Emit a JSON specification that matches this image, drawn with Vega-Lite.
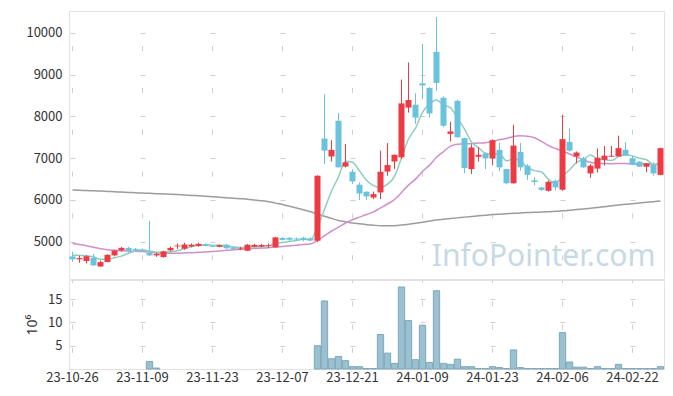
{
"$schema": "https://vega.github.io/schema/vega-lite/v6.json",
"padding": {"left": 25, "top": 10, "right": 5, "bottom": 5},
"background": "white",
"spacing": -5,
"config": {"font": "Noto Sans CJK KR", "view": {"stroke": "#e2e2e2"}, "axis": {"labelFontSize": 13, "labelColor": "#333333", "ticks": false, "domain": false, "gridColor": "#cfcfcf", "titleFontWeight": "normal"}},
"data": {"values": [
{"d":"23-10-26","o":4650,"h":4760,"l":4520,"c":4580,"v":0,"m5":4680,"m20":4960,"m120":6240},
{"d":"23-10-27","o":4580,"h":4670,"l":4500,"c":4610,"v":0,"m5":4675,"m20":4935,"m120":6233},
{"d":"23-10-30","o":4540,"h":4680,"l":4480,"c":4655,"v":0,"m5":4668,"m20":4905,"m120":6226},
{"d":"23-10-31","o":4615,"h":4710,"l":4430,"c":4435,"v":0,"m5":4640,"m20":4870,"m120":6219},
{"d":"23-11-01","o":4410,"h":4550,"l":4400,"c":4515,"v":0,"m5":4580,"m20":4835,"m120":6212},
{"d":"23-11-02","o":4515,"h":4700,"l":4510,"c":4690,"v":0,"m5":4581,"m20":4810,"m120":6205},
{"d":"23-11-03","o":4675,"h":4810,"l":4650,"c":4790,"v":0,"m5":4617,"m20":4795,"m120":6197},
{"d":"23-11-06","o":4795,"h":4880,"l":4760,"c":4855,"v":0,"m5":4657,"m20":4785,"m120":6189},
{"d":"23-11-07","o":4855,"h":4880,"l":4740,"c":4780,"v":0,"m5":4726,"m20":4778,"m120":6181},
{"d":"23-11-08","o":4830,"h":4850,"l":4770,"c":4795,"v":0,"m5":4782,"m20":4772,"m120":6173},
{"d":"23-11-09","o":4810,"h":4840,"l":4760,"c":4790,"v":0,"m5":4802,"m20":4768,"m120":6165},
{"d":"23-11-10","o":4735,"h":5500,"l":4660,"c":4675,"v":1.6,"m5":4779,"m20":4755,"m120":6158},
{"d":"23-11-13","o":4675,"h":4740,"l":4640,"c":4712,"v":0.2,"m5":4750,"m20":4740,"m120":6151},
{"d":"23-11-14","o":4635,"h":4790,"l":4620,"c":4770,"v":0,"m5":4748,"m20":4732,"m120":6144},
{"d":"23-11-15","o":4795,"h":4890,"l":4770,"c":4855,"v":0,"m5":4760,"m20":4728,"m120":6137},
{"d":"23-11-16","o":4890,"h":4960,"l":4830,"c":4910,"v":0,"m5":4784,"m20":4728,"m120":6130},
{"d":"23-11-17","o":4835,"h":4980,"l":4810,"c":4935,"v":0,"m5":4836,"m20":4733,"m120":6120},
{"d":"23-11-20","o":4890,"h":4960,"l":4870,"c":4930,"v":0,"m5":4880,"m20":4740,"m120":6110},
{"d":"23-11-21","o":4900,"h":4980,"l":4880,"c":4950,"v":0,"m5":4916,"m20":4748,"m120":6100},
{"d":"23-11-22","o":4945,"h":4960,"l":4890,"c":4900,"v":0,"m5":4925,"m20":4757,"m120":6090},
{"d":"23-11-23","o":4900,"h":4920,"l":4870,"c":4880,"v":0,"m5":4919,"m20":4768,"m120":6080},
{"d":"23-11-24","o":4880,"h":4935,"l":4870,"c":4920,"v":0,"m5":4916,"m20":4782,"m120":6068},
{"d":"23-11-27","o":4930,"h":4950,"l":4830,"c":4845,"v":0,"m5":4899,"m20":4796,"m120":6056},
{"d":"23-11-28","o":4865,"h":4880,"l":4800,"c":4830,"v":0,"m5":4875,"m20":4808,"m120":6044},
{"d":"23-11-29","o":4820,"h":4880,"l":4800,"c":4840,"v":0,"m5":4863,"m20":4821,"m120":6032},
{"d":"23-11-30","o":4785,"h":4950,"l":4780,"c":4930,"v":0,"m5":4873,"m20":4833,"m120":6020},
{"d":"23-12-01","o":4880,"h":4950,"l":4870,"c":4925,"v":0,"m5":4874,"m20":4842,"m120":6000},
{"d":"23-12-04","o":4885,"h":4950,"l":4870,"c":4925,"v":0,"m5":4890,"m20":4851,"m120":5980},
{"d":"23-12-05","o":4895,"h":4960,"l":4860,"c":4915,"v":0,"m5":4907,"m20":4860,"m120":5960},
{"d":"23-12-06","o":4870,"h":5120,"l":4860,"c":5105,"v":0,"m5":4960,"m20":4877,"m120":5925},
{"d":"23-12-07","o":5090,"h":5110,"l":5030,"c":5045,"v":0,"m5":4983,"m20":4890,"m120":5890},
{"d":"23-12-08","o":5095,"h":5110,"l":5020,"c":5050,"v":0,"m5":5008,"m20":4905,"m120":5850},
{"d":"23-12-11","o":5080,"h":5100,"l":5030,"c":5055,"v":0,"m5":5034,"m20":4920,"m120":5810},
{"d":"23-12-12","o":5095,"h":5120,"l":5010,"c":5050,"v":0,"m5":5061,"m20":4935,"m120":5765},
{"d":"23-12-13","o":5085,"h":5110,"l":5010,"c":5030,"v":0,"m5":5046,"m20":4949,"m120":5720},
{"d":"23-12-14","o":5025,"h":6590,"l":4990,"c":6580,"v":5.0,"m5":5353,"m20":5032,"m120":5663},
{"d":"23-12-15","o":7470,"h":8530,"l":6860,"c":7180,"v":14.6,"m5":5779,"m20":5144,"m120":5610},
{"d":"23-12-18","o":7040,"h":7430,"l":6920,"c":7200,"v":2.2,"m5":6208,"m20":5258,"m120":5560},
{"d":"23-12-19","o":7895,"h":8080,"l":6780,"c":6780,"v":2.7,"m5":6554,"m20":5349,"m120":5510},
{"d":"23-12-20","o":6800,"h":7340,"l":6780,"c":6900,"v":1.8,"m5":6928,"m20":5449,"m120":5480},
{"d":"23-12-21","o":6675,"h":6740,"l":6380,"c":6445,"v":0.5,"m5":6901,"m20":5528,"m120":5450},
{"d":"23-12-22","o":6365,"h":6420,"l":6000,"c":6155,"v":0.5,"m5":6696,"m20":5589,"m120":5430},
{"d":"23-12-26","o":6195,"h":6210,"l":6000,"c":6085,"v":0.1,"m5":6473,"m20":5651,"m120":5410},
{"d":"23-12-27","o":6060,"h":6200,"l":6020,"c":6140,"v":0.1,"m5":6345,"m20":5717,"m120":5397},
{"d":"23-12-28","o":6180,"h":7180,"l":6020,"c":6675,"v":7.4,"m5":6300,"m20":5809,"m120":5385},
{"d":"24-01-02","o":6680,"h":7360,"l":6580,"c":6835,"v":3.4,"m5":6378,"m20":5904,"m120":5383},
{"d":"24-01-03","o":6920,"h":7090,"l":6740,"c":7080,"v":1.2,"m5":6563,"m20":6012,"m120":5385},
{"d":"24-01-04","o":7020,"h":8880,"l":6980,"c":8310,"v":17.6,"m5":7008,"m20":6181,"m120":5400},
{"d":"24-01-05","o":8210,"h":9290,"l":8090,"c":8390,"v":10.4,"m5":7458,"m20":6355,"m120":5420},
{"d":"24-01-08","o":8280,"h":8550,"l":7820,"c":7970,"v":2.0,"m5":7717,"m20":6498,"m120":5445},
{"d":"24-01-09","o":8790,"h":9730,"l":8410,"c":8740,"v":9.4,"m5":8098,"m20":6683,"m120":5470},
{"d":"24-01-10","o":8680,"h":8700,"l":7970,"c":8070,"v":1.4,"m5":8296,"m20":6834,"m120":5495},
{"d":"24-01-11","o":9545,"h":10380,"l":8610,"c":8800,"v":16.8,"m5":8394,"m20":7021,"m120":5520},
{"d":"24-01-12","o":8445,"h":8480,"l":7740,"c":7775,"v":1.2,"m5":8271,"m20":7157,"m120":5538},
{"d":"24-01-15","o":7580,"h":7870,"l":7400,"c":7640,"v":1.0,"m5":8205,"m20":7288,"m120":5555},
{"d":"24-01-16","o":8370,"h":8400,"l":7490,"c":7500,"v":2.1,"m5":7957,"m20":7334,"m120":5572},
{"d":"24-01-17","o":7480,"h":7490,"l":6640,"c":6765,"v":0.5,"m5":7696,"m20":7340,"m120":5590},
{"d":"24-01-18","o":6740,"h":7330,"l":6620,"c":7255,"v":0.5,"m5":7387,"m20":7350,"m120":5605},
{"d":"24-01-19","o":7035,"h":7260,"l":6920,"c":7080,"v":0.1,"m5":7248,"m20":7360,"m120":5620},
{"d":"24-01-22","o":7113,"h":7130,"l":6740,"c":6995,"v":0.1,"m5":7119,"m20":7370,"m120":5635},
{"d":"24-01-23","o":6995,"h":7450,"l":6830,"c":7430,"v":0.5,"m5":7105,"m20":7400,"m120":5650},
{"d":"24-01-24","o":7200,"h":7370,"l":6690,"c":6780,"v":0.3,"m5":7108,"m20":7440,"m120":5660},
{"d":"24-01-25","o":6740,"h":6750,"l":6380,"c":6400,"v":0.1,"m5":6937,"m20":7470,"m120":5670},
{"d":"24-01-26","o":6400,"h":7800,"l":6390,"c":7300,"v":4.1,"m5":6981,"m20":7520,"m120":5680},
{"d":"24-01-29","o":7150,"h":7370,"l":6700,"c":6780,"v":0.3,"m5":6938,"m20":7535,"m120":5690},
{"d":"24-01-30","o":6820,"h":6860,"l":6480,"c":6600,"v":0.1,"m5":6772,"m20":7525,"m120":5698},
{"d":"24-01-31","o":6470,"h":6550,"l":6350,"c":6430,"v":0.1,"m5":6702,"m20":7490,"m120":5705},
{"d":"24-02-01","o":6300,"h":6310,"l":6220,"c":6240,"v":0.1,"m5":6670,"m20":7400,"m120":5712},
{"d":"24-02-02","o":6220,"h":6470,"l":6200,"c":6435,"v":0.1,"m5":6497,"m20":7300,"m120":5720},
{"d":"24-02-05","o":6460,"h":6490,"l":6230,"c":6300,"v":0.1,"m5":6401,"m20":7230,"m120":5730},
{"d":"24-02-06","o":6245,"h":8040,"l":6220,"c":7455,"v":7.8,"m5":6572,"m20":7170,"m120":5740},
{"d":"24-02-07","o":7390,"h":7710,"l":7160,"c":7180,"v":1.5,"m5":6722,"m20":7100,"m120":5755},
{"d":"24-02-08","o":7040,"h":7160,"l":6875,"c":7135,"v":0.4,"m5":6901,"m20":7030,"m120":5770},
{"d":"24-02-13","o":6995,"h":7030,"l":6770,"c":6780,"v":0.4,"m5":6970,"m20":6960,"m120":5785},
{"d":"24-02-14","o":6635,"h":6860,"l":6530,"c":6820,"v":0.1,"m5":7074,"m20":6900,"m120":5800},
{"d":"24-02-15","o":6750,"h":7230,"l":6660,"c":7010,"v":0.5,"m5":6985,"m20":6880,"m120":5820},
{"d":"24-02-16","o":6960,"h":7290,"l":6820,"c":7060,"v":0.1,"m5":6961,"m20":6873,"m120":5840},
{"d":"24-02-19","o":7035,"h":7290,"l":7030,"c":7058,"v":0.1,"m5":6946,"m20":6868,"m120":5860},
{"d":"24-02-20","o":7040,"h":7540,"l":7040,"c":7240,"v":1.0,"m5":7038,"m20":6871,"m120":5880},
{"d":"24-02-21","o":7200,"h":7380,"l":7050,"c":7060,"v":0.1,"m5":7086,"m20":6875,"m120":5895},
{"d":"24-02-22","o":6995,"h":7050,"l":6840,"c":6845,"v":0.1,"m5":7053,"m20":6860,"m120":5910},
{"d":"24-02-23","o":6915,"h":6930,"l":6790,"c":6795,"v":0.1,"m5":7000,"m20":6855,"m120":5928},
{"d":"24-02-26","o":6795,"h":6880,"l":6660,"c":6875,"v":0.1,"m5":6963,"m20":6865,"m120":5945},
{"d":"24-02-27","o":6835,"h":6900,"l":6580,"c":6635,"v":0.1,"m5":6842,"m20":6850,"m120":5960},
{"d":"24-02-28","o":6600,"h":7250,"l":6590,"c":7240,"v":0.5,"m5":6878,"m20":6860,"m120":5975}
]},
"resolve": {"scale": {"x": "shared"}},
"vconcat": [
{
 "width": 595, "height": 268,
 "encoding": {"x": {"field": "d", "type": "ordinal", "sort": null, "scale": {"type": "band", "paddingInner": 0.1, "paddingOuter": 0.05}, "axis": {"values": ["23-10-26", "23-11-09", "23-11-23", "23-12-07", "23-12-21", "24-01-09", "24-01-23", "24-02-06", "24-02-22"], "labels": false, "title": null, "minExtent": 0, "maxExtent": 0, "labelPadding": 0, "offset": 0, "grid": true, "gridDash": [5, 36.8], "gridDashOffset": 7.1}}},
 "layer": [
  {"mark": {"type": "line", "color": "#9c9c9c", "strokeWidth": 1.5, "interpolate": "monotone"},
   "encoding": {"y": {"field": "m120", "type": "quantitative", "scale": {"domain": [4110, 10520], "nice": false, "zero": false}, "axis": {"values": [5000, 6000, 7000, 8000, 9000, 10000], "title": null, "format": "d", "grid": true, "gridDash": [5, 65], "gridDashOffset": 69, "labelPadding": 7}}}},
  {"mark": {"type": "line", "color": "#cf8fca", "strokeWidth": 1.5, "interpolate": "monotone"},
   "encoding": {"y": {"field": "m20", "type": "quantitative"}}},
  {"mark": {"type": "line", "color": "#8ccfc0", "strokeWidth": 1.5, "interpolate": "monotone"},
   "encoding": {"y": {"field": "m5", "type": "quantitative"}}},
  {"mark": {"type": "rule", "strokeWidth": 1},
   "encoding": {"y": {"field": "l", "type": "quantitative"}, "y2": {"field": "h"}, "color": {"condition": {"test": "datum.c >= datum.o", "value": "#ee3a43"}, "value": "#6ac3dc"}}},
  {"mark": {"type": "bar", "size": 6},
   "encoding": {"y": {"field": "o", "type": "quantitative"}, "y2": {"field": "c"}, "color": {"condition": {"test": "datum.c >= datum.o", "value": "#ee3a43"}, "value": "#6ac3dc"}}},
  {"transform": [{"filter": "datum.d == '24-02-28'"}],
   "mark": {"type": "text", "fontSize": 30, "font": "Noto Sans", "color": "#c7d9e4", "align": "right", "baseline": "alphabetic", "dx": -5},
   "encoding": {"y": {"datum": 4430, "type": "quantitative"}, "text": {"value": "InfoPointer.com"}}}
 ]
},
{
 "width": 595, "height": 89,
 "mark": {"type": "bar", "fill": "#9bc0d0", "stroke": "#7da8ba", "strokeWidth": 1},
 "encoding": {
  "x": {"field": "d", "type": "ordinal", "sort": null, "scale": {"type": "band", "paddingInner": 0.1, "paddingOuter": 0.05}, "axis": {"values": ["23-10-26", "23-11-09", "23-11-23", "23-12-07", "23-12-21", "24-01-09", "24-01-23", "24-02-06", "24-02-22"], "labelAngle": 0, "title": null, "labelOverlap": false, "labelPadding": 2, "grid": true, "gridDash": [5, 18.3], "gridDashOffset": 2.5}},
  "y": {"field": "v", "type": "quantitative", "scale": {"domain": [0, 19.1], "nice": false}, "axis": {"values": [5, 10, 15], "title": "10⁶", "titleFont": "Noto Sans", "titleFontSize": 14, "titleColor": "#333333", "titlePadding": 8, "labelPadding": 7, "grid": true, "gridDash": [5, 65], "gridDashOffset": 69}},
  "strokeOpacity": {"condition": {"test": "datum.v > 0", "value": 1}, "value": 0}
 }
}
]
}
